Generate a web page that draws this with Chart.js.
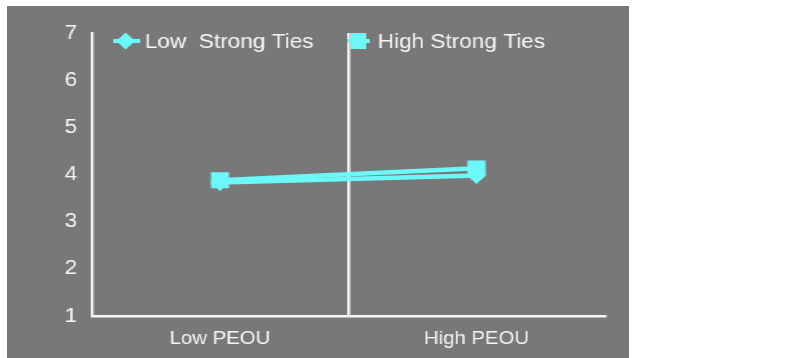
<!DOCTYPE html>
<html>
<head>
<meta charset="utf-8">
<script src="https://cdn.jsdelivr.net/npm/chart.js@4"></script>
<style>
  html, body { margin: 0; padding: 0; background: #fff; }
  #box {
    position: absolute; left: 7px; top: 6px;
    width: 550px; height: 352px; background: #787878;
    transform: scaleX(1.13); transform-origin: 0 0;
  }
  #chart { display: block; }
</style>
</head>
<body>
<div id="box"><canvas id="chart" width="550" height="352"></canvas></div>
<script>
// values
const categories = ['Low PEOU', 'High PEOU'];
const lowTies = [3.83, 3.98];
const highTies = [3.88, 4.13];
const yTicks = [1, 2, 3, 4, 5, 6, 7];

const cyan = '#6cf8f8';
const white = '#f6f6f6';
const fam = '"Liberation Sans", Arial, sans-serif';

// legend drawn inside the plot, like the original
const insideLegend = {
  id: 'insideLegend',
  afterDraw(chart) {
    const ctx = chart.ctx;
    const items = [
      { text: 'Low  Strong Ties', style: 'diamond', x0: 94, x1: 118, cx: 105, tx: 122 },
      { text: 'High Strong Ties', style: 'square', x0: 301, x1: 321, cx: 311, tx: 328 }
    ];
    const y = 35;
    ctx.save();
    items.forEach(it => {
      ctx.strokeStyle = cyan;
      ctx.lineWidth = 4;
      ctx.beginPath(); ctx.moveTo(it.x0, y); ctx.lineTo(it.x1, y); ctx.stroke();
      ctx.fillStyle = cyan;
      ctx.beginPath();
      if (it.style === 'diamond') {
        ctx.moveTo(it.cx, y - 8.5); ctx.lineTo(it.cx + 8.5, y);
        ctx.lineTo(it.cx, y + 8.5); ctx.lineTo(it.cx - 8.5, y);
        ctx.closePath();
      } else {
        ctx.rect(it.cx - 7, y - 8, 14, 16);
      }
      ctx.fill();
      ctx.fillStyle = white;
      ctx.font = '20px ' + fam;
      ctx.textBaseline = 'middle';
      ctx.textAlign = 'left';
      ctx.fillText(it.text, it.tx, y + 1);
    });
    ctx.restore();
  }
};

new Chart(document.getElementById('chart'), {
  type: 'line',
  data: {
    labels: categories,
    datasets: [
      {
        label: 'Low  Strong Ties', data: lowTies,
        borderColor: cyan, backgroundColor: cyan, borderWidth: 4.5,
        pointStyle: 'rectRot', pointRadius: 8.5, pointBorderWidth: 0, tension: 0
      },
      {
        label: 'High Strong Ties', data: highTies,
        borderColor: cyan, backgroundColor: cyan, borderWidth: 4.5,
        pointStyle: 'rect', pointRadius: 11.3, pointBorderWidth: 0, tension: 0
      }
    ]
  },
  options: {
    responsive: false,
    animation: false,
    devicePixelRatio: 1,
    layout: { padding: { top: 27, right: 21, left: 0, bottom: 0 } },
    plugins: { legend: { display: false }, tooltip: { enabled: false } },
    scales: {
      x: {
        offset: true,
        grid: {
          offset: true, drawTicks: false, lineWidth: 2.6,
          color: ctx => ctx.index === 1 ? white : 'rgba(0,0,0,0)'
        },
        border: { color: white, width: 2.6 },
        ticks: { color: white, padding: 12, font: { size: 18, family: fam } },
        afterFit: s => { s.height = 42; }
      },
      y: {
        min: yTicks[0], max: yTicks[yTicks.length - 1],
        afterBuildTicks: s => { s.ticks = yTicks.map(v => ({ value: v })); },
        grid: { display: false, drawTicks: false },
        border: { color: white, width: 2.6 },
        ticks: { color: white, padding: 13, font: { size: 20, family: fam } },
        afterFit: s => { s.width = 75; }
      }
    }
  },
  plugins: [insideLegend]
});
</script>
</body>
</html>
